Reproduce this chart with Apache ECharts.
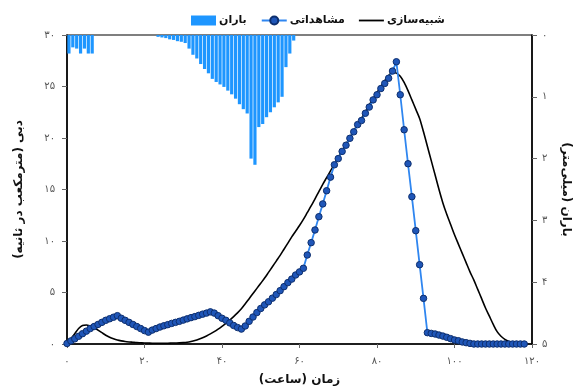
<!DOCTYPE html>
<html>
<head>
<meta charset="utf-8">
<script src="https://cdn.jsdelivr.net/npm/echarts@6/dist/echarts.min.js"></script>
<style>
  html, body { margin: 0; padding: 0; background: #fff; }
  #chart { width: 580px; height: 392px; }
</style>
</head>
<body>
<div id="chart"></div>
<script>
// Hourly time steps (hours)
const obsHours = Array.from({ length: 119 }, (_, i) => i);
const simHours = Array.from({ length: 120 }, (_, i) => i);

// Observed discharge (m3/s), hourly from t = 0
const observedFlow = [
  0.05, 0.3, 0.5, 0.75, 1.0, 1.25, 1.5, 1.7, 1.9, 2.1,
  2.3, 2.45, 2.6, 2.75, 2.5, 2.3, 2.1, 1.9, 1.7, 1.5,
  1.3, 1.15, 1.35, 1.5, 1.65, 1.77, 1.88, 2.0, 2.1, 2.2,
  2.32, 2.44, 2.56, 2.66, 2.78, 2.9, 3.0, 3.12, 3.0, 2.75,
  2.5, 2.3, 2.05, 1.8, 1.6, 1.45, 1.75, 2.2, 2.62, 3.05,
  3.45, 3.8, 4.1, 4.45, 4.8, 5.18, 5.57, 5.96, 6.3, 6.7,
  7.0, 7.35, 8.64, 9.84, 11.07, 12.36, 13.6, 14.88, 16.2, 17.4,
  18.0, 18.7, 19.3, 19.97, 20.6, 21.3, 21.7, 22.4, 23.0, 23.7,
  24.2, 24.8, 25.3, 25.8, 26.5, 27.4, 24.2, 20.8, 17.5, 14.3,
  11.0, 7.7, 4.43, 1.1, 1.03, 0.97, 0.87, 0.77, 0.65, 0.52,
  0.39, 0.32, 0.2, 0.13, 0.06, 0, 0, 0, 0, 0,
  0, 0, 0, 0, 0, 0, 0, 0, 0
];

// Simulated discharge (m3/s), hourly from t = 0
const simulatedFlow = [
  0, 0.5, 1.0, 1.5, 1.8, 1.85, 1.75, 1.6, 1.35, 1.1,
  0.85, 0.65, 0.5, 0.38, 0.3, 0.24, 0.2, 0.17, 0.14, 0.12,
  0.1, 0.09, 0.08, 0.08, 0.08, 0.08, 0.08, 0.09, 0.1, 0.11,
  0.13, 0.17, 0.24, 0.33, 0.45, 0.6, 0.78, 0.98, 1.2, 1.45,
  1.72, 2.0, 2.32, 2.66, 3.02, 3.42, 3.9, 4.4, 4.9, 5.4,
  5.9, 6.4, 6.95, 7.5, 8.05, 8.6, 9.2, 9.8, 10.4, 10.95,
  11.5, 12.1, 12.75, 13.4, 14.1, 14.8, 15.5, 16.15, 16.8, 17.45,
  18.1, 18.75, 19.4, 20.05, 20.7, 21.3, 21.9, 22.55, 23.2, 23.8,
  24.4, 25.0, 25.55, 26.05, 26.4, 26.3, 26.0, 25.4, 24.6, 23.7,
  22.8, 21.9, 20.6, 19.2, 17.8, 16.4, 15.0, 13.7, 12.6, 11.6,
  10.6, 9.7, 8.8, 7.9, 7.0, 6.2, 5.3, 4.4, 3.5, 2.7,
  1.9, 1.2, 0.75, 0.45, 0.25, 0.15, 0.1, 0.05, 0.02, 0
];

// Hourly rainfall (mm), bar for hour h spans h..h+1
const rainHours = [
  0, 1, 2, 3, 4, 5, 6,
  23, 24, 25, 26, 27, 28, 29, 30, 31, 32, 33, 34, 35, 36, 37, 38, 39, 40,
  41, 42, 43, 44, 45, 46, 47, 48, 49, 50, 51, 52, 53, 54, 55, 56, 57, 58
];
const rainDepth = [
  0.3, 0.2, 0.22, 0.3, 0.22, 0.3, 0.3,
  0.03, 0.04, 0.05, 0.07, 0.08, 0.1, 0.11, 0.13, 0.22, 0.32, 0.38, 0.47, 0.55, 0.62, 0.71, 0.76, 0.8, 0.84,
  0.9, 0.96, 1.03, 1.12, 1.2, 1.27, 2.0, 2.1, 1.49, 1.44, 1.33, 1.25, 1.17, 1.09, 1.0, 0.52, 0.3, 0.09
];

// Axis ranges and ticks
const xTicks = [0, 20, 40, 60, 80, 100, 120];
const flowTicks = [0, 5, 10, 15, 20, 25, 30];
const rainTicks = [0, 1, 2, 3, 4, 5];

const LABEL_RAIN = 'باران';
const LABEL_OBS = 'مشاهداتی';
const LABEL_SIM = 'شبیه\u200Cسازی';
const NAME_FLOW = 'دبی (مترمکعب در ثانیه)';
const NAME_RAIN = 'باران (میلی\u200Cمتر)';
const NAME_TIME = 'زمان (ساعت)';

const rtl = s => '\u200F' + s + '\u200F';
const faDigits = v => String(v).replace(/\d/g, d => '۰۱۲۳۴۵۶۷۸۹'[d]);

const FONT = 'DejaVu Sans';

const chart = echarts.init(document.getElementById('chart'), null, { renderer: 'canvas' });

const axisLabelStyle = { color: '#555', fontSize: 10, fontFamily: FONT };
const axisNameStyle = { color: '#111', fontSize: 12, fontWeight: 'bold', fontFamily: FONT };

chart.setOption({
  animation: false,
  backgroundColor: '#fff',
  textStyle: { fontFamily: FONT },
  legend: {
    data: [
      { name: LABEL_RAIN, icon: 'rect' },
      { name: LABEL_OBS },
      // plain line swatch for the simulated series
      { name: LABEL_SIM, icon: 'path://M0,0 H25 V1.8 H0 Z' }
    ],
    left: 186,
    top: 10,
    itemWidth: 25,
    itemHeight: 10,
    itemGap: 14,
    formatter: name => rtl(name),
    textStyle: { color: '#111', fontSize: 11, fontWeight: 'bold', fontFamily: FONT, padding: [0, 0, 0, -2] }
  },
  grid: {
    left: 67, right: 46, top: 35, bottom: 48,
    show: true, borderColor: '#000', borderWidth: 1.2, backgroundColor: 'transparent'
  },
  xAxis: {
    type: 'value',
    min: xTicks[0], max: xTicks[xTicks.length - 1], interval: 20,
    name: rtl(NAME_TIME), nameLocation: 'middle', nameGap: 30,
    nameTextStyle: axisNameStyle,
    axisLine: { show: true, lineStyle: { color: '#000', width: 1.5 } },
    axisTick: { show: true, inside: false, length: 4, lineStyle: { color: '#666' } },
    axisLabel: { ...axisLabelStyle, margin: 12, formatter: v => faDigits(v) },
    splitLine: { show: false }
  },
  yAxis: [
    {
      type: 'value',
      min: flowTicks[0], max: flowTicks[flowTicks.length - 1], interval: 5,
      position: 'left',
      name: rtl(NAME_FLOW), nameLocation: 'middle', nameGap: 42, nameRotate: 90,
      nameTextStyle: axisNameStyle,
      axisLine: { show: true, lineStyle: { color: '#000', width: 1.5 } },
      axisTick: { show: true, inside: false, length: 5, lineStyle: { color: '#666' } },
      axisLabel: { ...axisLabelStyle, margin: 12, formatter: v => faDigits(v) },
      splitLine: { show: false }
    },
    {
      type: 'value',
      min: rainTicks[0], max: rainTicks[rainTicks.length - 1], interval: 1,
      position: 'right', inverse: true,
      name: rtl(NAME_RAIN), nameLocation: 'middle', nameGap: 28, nameRotate: -90,
      nameTextStyle: axisNameStyle,
      axisLine: { show: true, lineStyle: { color: '#000', width: 1.5 } },
      axisTick: { show: true, inside: false, length: 5, lineStyle: { color: '#666' } },
      axisLabel: { ...axisLabelStyle, margin: 10, formatter: v => faDigits(v) },
      splitLine: { show: false }
    }
  ],
  series: [
    {
      name: LABEL_RAIN,
      type: 'bar',
      yAxisIndex: 1,
      barWidth: 3.2,
      itemStyle: { color: '#1E96FF' },
      data: rainHours.map((h, i) => [h + 0.5, rainDepth[i]]),
      z: 1
    },
    {
      name: LABEL_SIM,
      type: 'line',
      yAxisIndex: 0,
      symbol: 'none',
      smooth: 0.3,
      lineStyle: { color: '#000', width: 1.6 },
      itemStyle: { color: '#000' },
      data: simHours.map((h, i) => [h, simulatedFlow[i]]),
      z: 2
    },
    {
      name: LABEL_OBS,
      type: 'line',
      yAxisIndex: 0,
      symbol: 'circle',
      symbolSize: 6.5,
      showSymbol: true,
      lineStyle: { color: '#2F86F0', width: 1.8 },
      itemStyle: { color: '#1F56B8', borderColor: '#0E2F6E', borderWidth: 1 },
      data: obsHours.map((h, i) => [h, observedFlow[i]]),
      z: 3
    }
  ]
});
</script>
</body>
</html>
